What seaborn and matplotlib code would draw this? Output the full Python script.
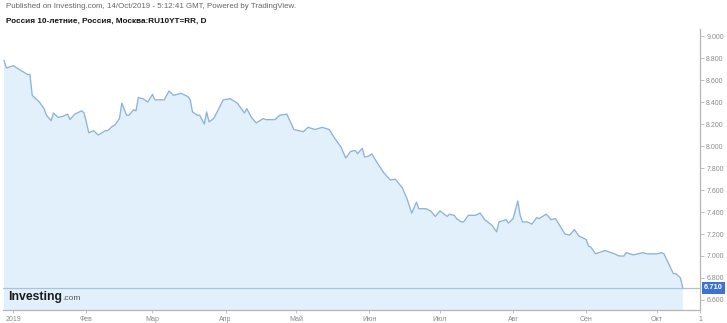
import matplotlib
matplotlib.use("Agg")
import matplotlib.pyplot as plt
import seaborn as sns
import pandas as pd

# ---- data ----
dates = [
    "2018-12-28", "2018-12-29", "2019-01-01", "2019-01-04", "2019-01-07", "2019-01-08",
    "2019-01-09", "2019-01-12", "2019-01-14", "2019-01-15", "2019-01-17", "2019-01-18",
    "2019-01-20", "2019-01-22", "2019-01-24", "2019-01-25", "2019-01-27", "2019-01-30",
    "2019-01-31", "2019-02-02", "2019-02-04", "2019-02-06", "2019-02-09", "2019-02-10",
    "2019-02-12", "2019-02-13", "2019-02-15", "2019-02-16", "2019-02-18", "2019-02-19",
    "2019-02-21", "2019-02-22", "2019-02-23", "2019-02-25", "2019-02-27", "2019-03-01",
    "2019-03-02", "2019-03-06", "2019-03-08", "2019-03-10", "2019-03-13", "2019-03-16",
    "2019-03-17", "2019-03-18", "2019-03-20", "2019-03-21", "2019-03-23", "2019-03-24",
    "2019-03-25", "2019-03-27", "2019-03-31", "2019-04-03", "2019-04-06", "2019-04-09",
    "2019-04-10", "2019-04-12", "2019-04-14", "2019-04-17", "2019-04-18", "2019-04-22",
    "2019-04-24", "2019-04-27", "2019-04-30", "2019-05-04", "2019-05-06", "2019-05-09",
    "2019-05-12", "2019-05-15", "2019-05-17", "2019-05-20", "2019-05-22", "2019-05-24",
    "2019-05-26", "2019-05-27", "2019-05-29", "2019-05-30", "2019-06-01", "2019-06-02",
    "2019-06-04", "2019-06-07", "2019-06-10", "2019-06-12", "2019-06-15", "2019-06-17",
    "2019-06-19", "2019-06-21", "2019-06-22", "2019-06-25", "2019-06-27", "2019-06-29",
    "2019-07-01", "2019-07-04", "2019-07-05", "2019-07-07", "2019-07-08", "2019-07-10",
    "2019-07-11", "2019-07-13", "2019-07-16", "2019-07-18", "2019-07-20", "2019-07-23",
    "2019-07-25", "2019-07-26", "2019-07-29", "2019-07-30", "2019-08-01", "2019-08-03",
    "2019-08-04", "2019-08-05", "2019-08-07", "2019-08-09", "2019-08-11", "2019-08-12",
    "2019-08-15", "2019-08-16", "2019-08-17", "2019-08-19", "2019-08-21", "2019-08-23",
    "2019-08-25", "2019-08-27", "2019-08-29", "2019-09-01", "2019-09-02", "2019-09-03",
    "2019-09-05", "2019-09-09", "2019-09-13", "2019-09-15", "2019-09-17", "2019-09-18",
    "2019-09-21", "2019-09-25", "2019-09-27", "2019-10-01", "2019-10-03", "2019-10-04",
    "2019-10-06", "2019-10-08", "2019-10-09", "2019-10-11", "2019-10-12",
]
values = [
    8.78, 8.71, 8.73, 8.69, 8.65, 8.65,
    8.46, 8.40, 8.34, 8.28, 8.23, 8.30,
    8.26, 8.27, 8.29, 8.24, 8.29, 8.32,
    8.30, 8.12, 8.14, 8.10, 8.14, 8.14,
    8.18, 8.19, 8.25, 8.39, 8.28, 8.28,
    8.33, 8.32, 8.44, 8.43, 8.40, 8.47,
    8.42, 8.42, 8.50, 8.46, 8.48, 8.45,
    8.42, 8.31, 8.28, 8.28, 8.20, 8.31,
    8.22, 8.25, 8.42, 8.43, 8.39, 8.30,
    8.34, 8.26, 8.21, 8.25, 8.24, 8.24,
    8.28, 8.29, 8.15, 8.13, 8.17, 8.15,
    8.17, 8.15, 8.08, 7.99, 7.89, 7.95,
    7.96, 7.93, 7.98, 7.90, 7.91, 7.93,
    7.86, 7.76, 7.69, 7.70, 7.62, 7.52,
    7.39, 7.49, 7.43, 7.43, 7.41, 7.36,
    7.41, 7.36, 7.38, 7.37, 7.34, 7.31,
    7.31, 7.37, 7.37, 7.39, 7.33, 7.28,
    7.22, 7.31, 7.33, 7.30, 7.34, 7.50,
    7.37, 7.31, 7.31, 7.29, 7.35, 7.34,
    7.38, 7.36, 7.33, 7.34, 7.27, 7.20,
    7.19, 7.24, 7.18, 7.15, 7.09, 7.08,
    7.02, 7.05, 7.02, 7.00, 7.00, 7.03,
    7.01, 7.03, 7.02, 7.02, 7.03, 7.02,
    6.93, 6.84, 6.84, 6.80, 6.71,
]
last_value = 6.71
month_tick_dates = ["2019-01-01 00:00", "2019-02-01 00:00", "2019-03-01 00:00", "2019-04-01 00:00",
                    "2019-05-01 00:00", "2019-06-01 00:00", "2019-07-01 00:00", "2019-08-01 00:00",
                    "2019-09-01 00:00", "2019-10-01 00:00", "2019-10-19 07:00"]
month_tick_labels = ["2019", "Фев", "Мар", "Апр", "Май", "Июн", "Июл", "Авг", "Сен", "Окт", "1"]
y_ticks = [6.6, 6.8, 7.0, 7.2, 7.4, 7.6, 7.8, 8.0, 8.2, 8.4, 8.6, 8.8, 9.0]

header = "Published on Investing.com, 14/Oct/2019 - 5:12:41 GMT, Powered by TradingView."
title = "Россия 10-летние, Россия, Москва:RU10YT=RR, D"

# ---- style ----
sns.set_style("white")
plt.rcParams['font.family'] = ['Liberation Sans', 'DejaVu Sans']

LINE = "#8fb3d6"
FILL = "#e1f0fa"
HLINE = "#a9c3df"
AXIS = "#b5b5b5"
TXT = "#8a8a8a"

df = pd.DataFrame({"date": pd.to_datetime(dates, format="%Y-%m-%d"), "value": values})

W, H = 727, 323
fig = plt.figure(figsize=(W / 100, H / 100), dpi=100)
ax = fig.add_axes([3 / W, 1 - 310 / H, 697 / W, 281 / H])

ymin, ymax = 6.509, 9.064
ax.fill_between(df["date"], df["value"], ymin - 1, color=FILL, lw=0, zorder=1)
sns.lineplot(data=df, x="date", y="value", ax=ax, color=LINE, lw=0.95, zorder=3)
ax.axhline(last_value, color=HLINE, lw=0.9, zorder=2)

ax.set_xlim(pd.Timestamp("2018-12-27 14:00"), pd.Timestamp("2019-10-19 07:00"))
ax.set_ylim(ymin, ymax)
ax.set_xlabel("")
ax.set_ylabel("")

for s in ["top", "left"]:
    ax.spines[s].set_visible(False)
for s in ["right", "bottom"]:
    ax.spines[s].set_color(AXIS)
    ax.spines[s].set_linewidth(0.9)

ax.yaxis.tick_right()
ax.set_yticks(y_ticks)
ax.set_yticklabels([f"{v:.3f}" for v in y_ticks])
ax.set_xticks(pd.to_datetime(month_tick_dates, format="%Y-%m-%d %H:%M"))
ax.set_xticklabels(month_tick_labels)
ax.tick_params(axis="y", which="both", right=True, left=False, length=3, width=0.6,
               color=AXIS, labelsize=5, labelcolor=TXT, pad=1.5)
ax.tick_params(axis="x", which="both", bottom=True, length=2, width=0.6,
               color=AXIS, labelsize=5, labelcolor=TXT, pad=2)
ax.grid(False)

# last value badge on the price axis
trans = ax.get_yaxis_transform()
ax.text(1.006, last_value, f"{last_value:.3f}", transform=trans, ha="left", va="center",
        fontsize=5.4, color="white", fontweight="bold", zorder=6, clip_on=False,
        bbox=dict(boxstyle="square,pad=0.3", fc="#3c72d6", ec="none"))

# header texts
fig.text(6 / W, 1 - 7 / H, header, fontsize=5.65, color="#666666", ha="left", va="center")
fig.text(6 / W, 1 - 21 / H, title, fontsize=5.85, color="#111111", fontweight="bold",
         ha="left", va="center")

# logo
logo = fig.text(8 / W, 1 - 297 / H, "Investing", fontsize=8.8, color="#1a1a1a",
                fontweight="bold", ha="left", va="center")
fig.canvas.draw()
bb = logo.get_window_extent()
fig.text(bb.x1 / W, 1 - 298.5 / H, ".com", fontsize=6, color="#555555",
         ha="left", va="center")

fig.savefig("out.png", dpi=100)
